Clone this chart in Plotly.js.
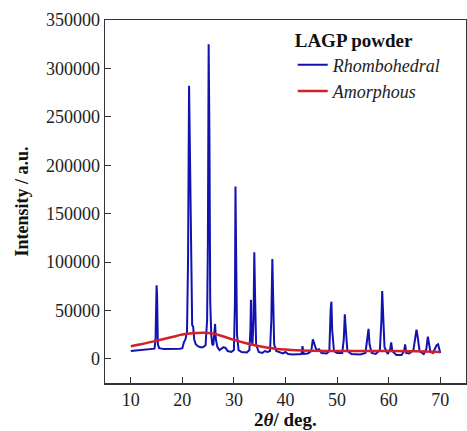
<!DOCTYPE html>
<html><head><meta charset="utf-8">
<script src="https://cdn.plot.ly/plotly-3.0.1.min.js"></script>
<style>html,body{margin:0;padding:0;background:#fff;}#chart{width:467px;height:431px;}</style>
</head><body><div id="chart"></div>
<script>
const rhomboX = [10.0,11.0,12.0,13.0,14.0,14.6,14.8,15.0,15.1,15.25,15.5,16.5,17.5,18.5,19.5,20.0,20.3,20.6,20.9,21.1,21.3,21.45,21.6,21.75,21.9,22.1,22.3,22.6,23.0,23.5,24.0,24.5,24.8,24.95,25.1,25.25,25.4,25.6,25.8,26.0,26.2,26.35,26.5,26.8,27.2,27.6,28.0,28.4,28.8,29.5,30.0,30.2,30.3,30.45,30.6,30.9,31.5,32.5,33.0,33.2,33.3,33.45,33.6,33.8,33.95,34.1,34.3,34.8,35.5,36.0,36.5,37.0,37.25,37.45,37.6,37.8,38.2,39.0,39.5,40.0,40.5,41.5,42.5,43.1,43.3,43.5,44.3,45.0,45.3,45.6,46.0,46.5,47.0,48.0,48.5,48.75,48.9,49.05,49.4,50.0,51.0,51.3,51.5,51.7,52.0,52.8,53.5,54.5,55.5,55.9,56.1,56.3,56.7,57.5,58.3,58.6,58.75,58.9,59.2,59.8,60.3,60.5,60.7,61.5,62.5,63.0,63.2,63.4,64.0,64.8,65.2,65.4,65.6,66.0,66.8,67.3,67.6,67.8,68.1,68.6,69.0,69.3,69.6,69.8,70.0];
const rhomboY = [8000,8500,9000,9300,9800,10500,20000,76000,65000,15000,11000,10000,10000,10500,10500,11000,17000,20000,28000,100000,282000,220000,133000,60000,35000,33000,20000,15000,13000,12000,12000,14000,40000,120000,325000,230000,60000,25000,15000,14000,30000,36000,20000,12000,9000,11000,12000,11000,8000,7000,9000,60000,178000,97000,25000,9000,7000,6500,9000,30000,61000,20000,15000,40000,110000,65000,15000,7000,6000,8000,7000,8000,40000,103000,60000,15000,8000,6000,5500,7000,5000,4500,4500,5000,13000,5000,5500,8000,20000,15000,9000,10000,6000,5500,8000,50000,59000,30000,8000,6000,6000,20000,46000,30000,8000,5000,4500,4500,6000,20000,31000,15000,6000,5000,9000,40000,70000,50000,12000,5000,10000,17000,8000,4000,4000,8000,15000,6000,5500,9000,25000,30000,24000,8000,5000,10000,23000,15000,7000,6000,11000,14000,15000,8000,6000];
const amorphX = [10,12,14,16,18,20,22,24,26,28,30,32,34,36,38,40,42,45,50,55,60,65,70];
const amorphY = [13000,15000,17500,20000,22500,25000,26500,27000,26000,23000,19500,16500,14000,12000,10500,9500,8800,8300,8000,8000,8000,7800,7000];
const xTicks = [10,20,30,40,50,60,70];
const yTicks = [0,50000,100000,150000,200000,250000,300000,350000];

const serif = 'Liberation Serif';
const traces = [
  {x: rhomboX, y: rhomboY, type: 'scatter', mode: 'lines', name: '<i>Rhombohedral</i>',
   line: {color: '#1212b0', width: 2}},
  {x: amorphX, y: amorphY, type: 'scatter', mode: 'lines', name: '<i>Amorphous</i>',
   line: {color: '#d42028', width: 2.5, shape: 'spline'}}
];
const layout = {
  width: 467, height: 431,
  margin: {l: 105, r: 1, t: 20, b: 48},
  paper_bgcolor: '#fff', plot_bgcolor: '#fff',
  font: {family: serif, color: '#222', size: 19},
  showlegend: true,
  legend: {x: 0.52, y: 0.995, xanchor: 'left', yanchor: 'top', bgcolor: 'rgba(0,0,0,0)',
    font: {family: serif, size: 18, color: '#222'},
    title: {text: '<b>LAGP powder</b>', font: {family: serif, size: 19, color: '#111'}},
    tracegroupgap: 0},
  xaxis: {range: [5, 75], tickvals: xTicks, ticktext: xTicks.map(String), ticks: 'inside', ticklen: 6,
    tickcolor: '#333', showline: true, linecolor: '#333', linewidth: 1.5, mirror: true,
    showgrid: false, zeroline: false, tickfont: {size: 18, family: serif, color: '#222'}},
  yaxis: {range: [-25000, 350000], tickvals: yTicks, ticktext: yTicks.map(String), ticks: 'inside', ticklen: 6,
    tickcolor: '#333', showline: true, linecolor: '#333', linewidth: 1.5, mirror: true,
    showgrid: false, zeroline: false, tickfont: {size: 18, family: serif, color: '#222'},
    title: {text: '<b>Intensity / a.u.</b>', font: {size: 18, family: serif, color: '#111'}, standoff: 12}},
  annotations: [{text: '<b>2<i>θ</i>/ deg.</b>', xref: 'paper', yref: 'paper', x: 0.5, y: 0, yshift: -24,
    xanchor: 'center', yanchor: 'top', showarrow: false, font: {size: 19, family: serif, color: '#111'}}]
};
Plotly.newPlot('chart', traces, layout, {displayModeBar: false, staticPlot: true});
</script></body></html>
